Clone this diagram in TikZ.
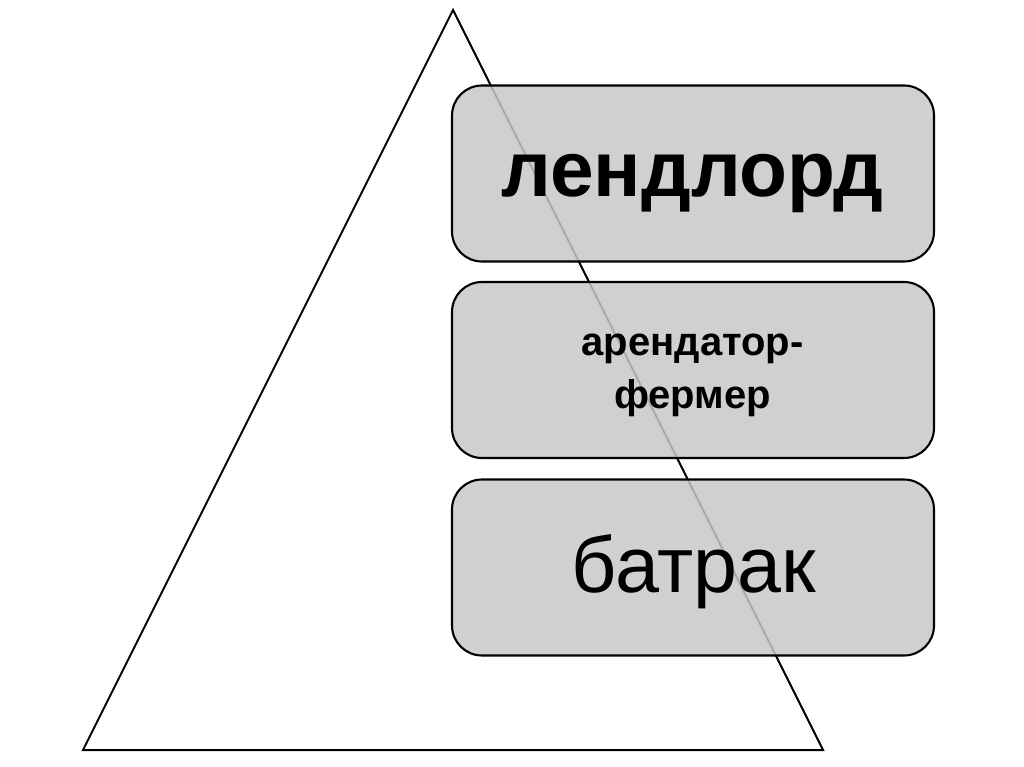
\documentclass[tikz,border=0pt]{standalone}
\usepackage{fontspec}
\setmainfont{Liberation Sans}
\begin{document}
\begin{tikzpicture}[x=1pt,y=-1pt,
  tier/.style={draw=black, line width=2.1pt, rounded corners=30pt, fill={rgb,255:red,200;green,200;blue,200}, fill opacity=0.85, minimum width=482pt, minimum height=176pt, inner sep=0pt},
  lbl/.style={anchor=base, inner sep=0pt, text=black, align=center}]
\useasboundingbox (0,0) rectangle (1024,767);
\fill[white] (0,0) rectangle (1024,767);
\coordinate (apex) at (453,10);
\coordinate (bl) at (83,750);
\coordinate (br) at (823,750);
\draw[line width=2pt, line join=miter] (apex) -- (br) -- (bl) -- cycle;
\node[tier] (b1) at (693,173.5) {};
\node[tier] (b2) at (693,370) {};
\node[tier] (b3) at (693,567.5) {};
\node[lbl, font=\fontsize{78.5}{86}\selectfont\bfseries] (t1) at (692.5,197) {лендлорд};
\node[lbl, font=\fontsize{40}{48}\selectfont\bfseries] (t2) at (692.5,355) {арендатор-};
\node[lbl, font=\fontsize{40}{48}\selectfont\bfseries] (t3) at (692.5,408) {фермер};
\node[lbl, font=\fontsize{79}{86}\selectfont] (t4) at (694,592) {батрак};
\end{tikzpicture}
\end{document}
